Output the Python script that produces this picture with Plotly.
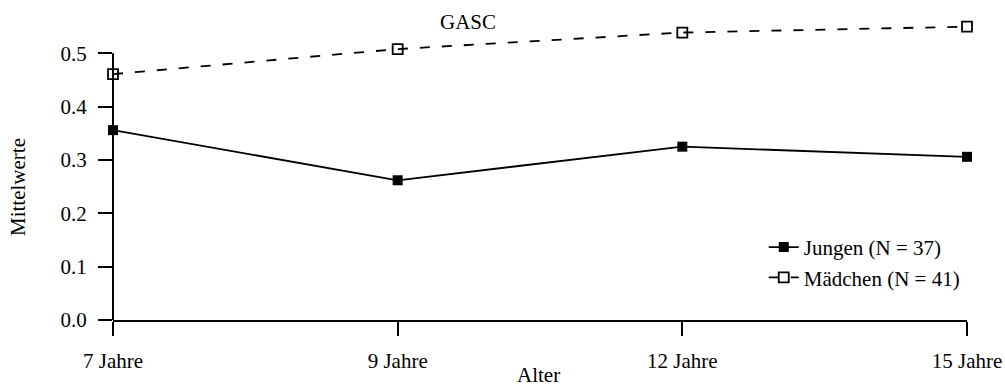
import plotly.graph_objects as go

# Age groups and mean GASC scores per group
ages = ["7 Jahre", "9 Jahre", "12 Jahre", "15 Jahre"]
age_pos = [0, 1, 2, 3]
jungen = [0.356, 0.262, 0.325, 0.306]
maedchen = [0.461, 0.508, 0.539, 0.550]
y_ticks = [0.0, 0.1, 0.2, 0.3, 0.4, 0.5]
y_ticktext = ["0.0", "0.1", "0.2", "0.3", "0.4", "0.5"]

FONT = "Liberation Serif, Times New Roman, serif"
BLACK = "#000000"
FS = 21

fig = go.Figure()

fig.add_trace(go.Scatter(
    x=age_pos, y=jungen, mode="lines+markers", name="Jungen (N = 37)",
    line=dict(color=BLACK, width=1.8),
    marker=dict(symbol="square", size=10, color=BLACK),
    cliponaxis=False,
))
fig.add_trace(go.Scatter(
    x=age_pos, y=maedchen, mode="lines+markers", name="Mädchen (N = 41)",
    line=dict(color=BLACK, width=1.8, dash="10px,12px"),
    marker=dict(symbol="square-open", size=10, color=BLACK, line=dict(width=1.8)),
    cliponaxis=False,
))

# vertical axis line only spans the labelled range 0.0 - 0.5
fig.add_shape(type="line", xref="paper", yref="y", x0=0, x1=0, y0=0, y1=0.5,
              line=dict(color=BLACK, width=2))

fig.update_layout(
    width=1005, height=387,
    margin=dict(l=113, r=38, t=0, b=67),
    paper_bgcolor="white", plot_bgcolor="white",
    font=dict(family=FONT, size=FS, color=BLACK),
    showlegend=True,
    legend=dict(x=0.762, y=0.18, xanchor="left", yanchor="middle",
                bgcolor="rgba(0,0,0,0)", font=dict(size=FS), tracegroupgap=0),
    xaxis=dict(
        range=[0, 3], tickmode="array", tickvals=age_pos, ticktext=ages,
        showgrid=False, zeroline=False, showline=True, linecolor=BLACK, linewidth=2,
        ticks="outside", ticklen=14, tickwidth=1.5, tickcolor=BLACK,
        ticklabelstandoff=7,
    ),
    yaxis=dict(
        range=[0, 0.6], tickmode="array", tickvals=y_ticks, ticktext=y_ticktext,
        showgrid=False, zeroline=False, showline=False,
        ticks="outside", ticklen=14, tickwidth=1.5, tickcolor=BLACK,
        ticklabelstandoff=7,
    ),
    annotations=[
        dict(text="GASC", xref="paper", yref="paper", x=(468 - 113) / 854, y=(320 - 22) / 320,
             showarrow=False, xanchor="center", yanchor="middle", font=dict(size=FS)),
        dict(text="Mittelwerte", xref="paper", yref="paper", x=0, xshift=-95,
             y=(320 - 187) / 320, textangle=-90, showarrow=False,
             xanchor="center", yanchor="middle", font=dict(size=FS)),
        dict(text="Alter", xref="paper", yref="paper", x=(538 - 113) / 854, y=0, yshift=-55,
             showarrow=False, xanchor="center", yanchor="middle", font=dict(size=FS)),
    ],
)

fig.write_html("out.html")
